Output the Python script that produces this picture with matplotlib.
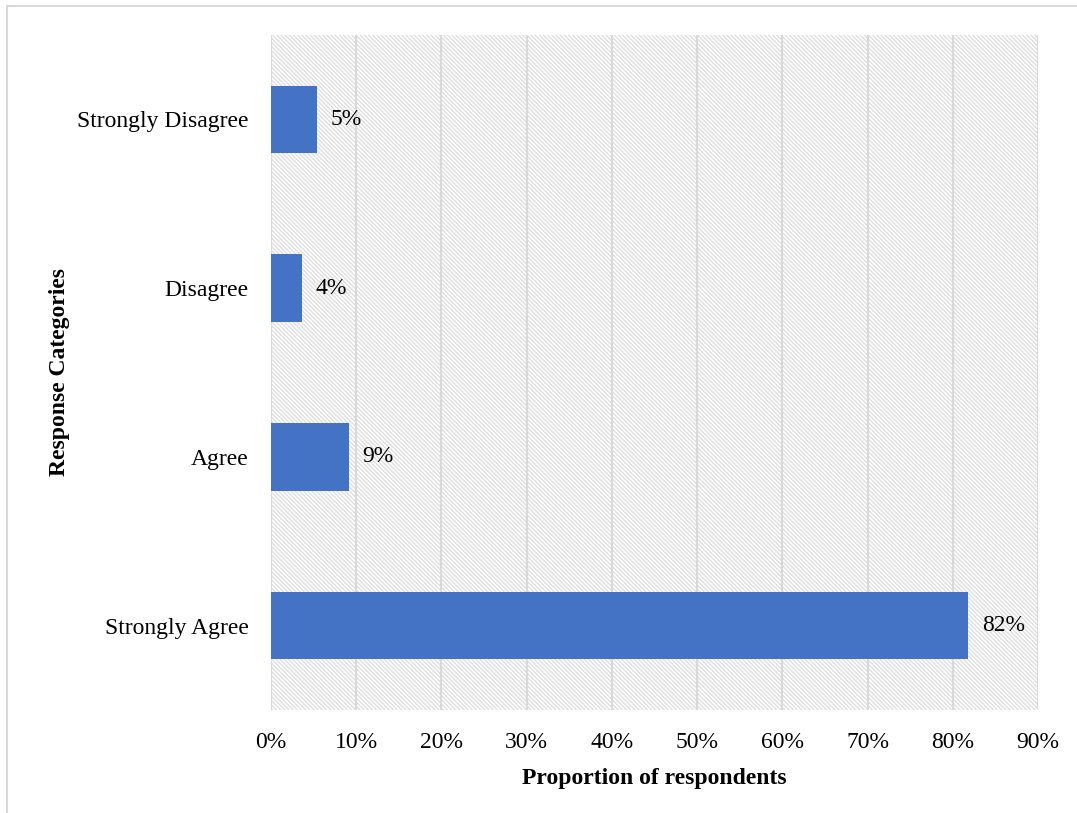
import matplotlib.pyplot as plt
from matplotlib.patches import Rectangle
from matplotlib.ticker import PercentFormatter

categories = ["Strongly Agree", "Agree", "Disagree", "Strongly Disagree"]
values = [81.8, 9.1, 3.6, 5.4]
labels = ["82%", "9%", "4%", "5%"]

plt.rcParams["font.family"] = ["Liberation Serif", "DejaVu Serif"]
plt.rcParams["hatch.linewidth"] = 0.9

fig = plt.figure(figsize=(10.77, 8.13), dpi=100)
ax = fig.add_axes([0.2516, 0.1267, 0.7122, 0.8303])

# hatched background like the excel plot area
bg = Rectangle((0, 0), 1, 1, transform=ax.transAxes, fill=False,
               hatch="\\" * 8, edgecolor="#dcdcdc", linewidth=0, zorder=0)
ax.add_patch(bg)

ax.barh(categories, values, height=0.4, color="#4472c4", zorder=3)
for i, (v, t) in enumerate(zip(values, labels)):
    ax.text(v + 1.6, i, t, va="center", ha="left", fontsize=17, zorder=4)

ax.set_xlim(0, 90)
ax.set_ylim(-0.5, 3.5)
ax.set_xticks(range(0, 91, 10))
ax.xaxis.set_major_formatter(PercentFormatter(decimals=0))
ax.grid(axis="x", color="#d9d9d9", linewidth=1.5, zorder=1)
ax.set_axisbelow(True)
for s in ax.spines.values():
    s.set_visible(False)
ax.tick_params(length=0, labelsize=17, pad=16)
ax.tick_params(axis="x", pad=16)

ax.set_xlabel("Proportion of respondents", fontsize=17, fontweight="bold", labelpad=11)
ax.set_ylabel("Response Categories", fontsize=17, fontweight="bold", labelpad=5)

# light frame round the chart
fig.patches.append(Rectangle((7 / 1077, -0.1), 1.2, 1 - 6 / 813 + 0.1,
                             transform=fig.transFigure, fill=False,
                             edgecolor="#d9d9d9", linewidth=1.5))

fig.savefig("out.png", dpi=100)
